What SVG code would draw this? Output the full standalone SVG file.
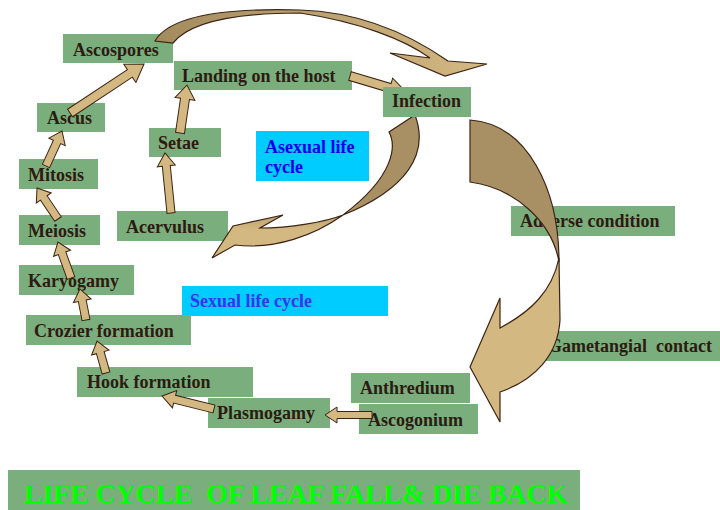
<svg xmlns="http://www.w3.org/2000/svg" width="720" height="510" viewBox="0 0 720 510">
<defs>
<style>
.box{fill:#7AAE7C}
.cy{fill:#00CCFF}
.t{font-family:"Liberation Serif","Times New Roman",serif;font-weight:bold;font-size:18px;fill:#2D1A12}
.b1{font-family:"Liberation Serif","Times New Roman",serif;font-weight:bold;font-size:18px;fill:#0000EE}
.b2{font-family:"Liberation Serif","Times New Roman",serif;font-weight:bold;font-size:18px;fill:#3535F5}
.ar{fill:#D4B882;stroke:#3C2415;stroke-width:1;stroke-linejoin:miter}
.cv{stroke:#3C2415;stroke-width:1.2}
</style>
<linearGradient id="gTop" gradientUnits="userSpaceOnUse" x1="155" y1="0" x2="487" y2="0">
<stop offset="0" stop-color="#A48B5F"/><stop offset="0.45" stop-color="#B8A070"/><stop offset="1" stop-color="#D4B882"/>
</linearGradient>
<linearGradient id="gMid" gradientUnits="userSpaceOnUse" x1="0" y1="115" x2="0" y2="258">
<stop offset="0" stop-color="#A89064"/><stop offset="0.62" stop-color="#A89064"/><stop offset="0.8" stop-color="#D4B882"/><stop offset="1" stop-color="#D4B882"/>
</linearGradient>
</defs>
<rect width="720" height="510" fill="#FFFFFF"/>

<g id="ascospores"><rect class="box" x="63" y="34" width="110" height="29"/><text class="t" x="73" y="56">Ascospores</text></g>
<g id="landing"><rect class="box" x="174" y="61" width="178" height="29"/><text class="t" x="182" y="82">Landing on the host</text></g>
<g id="ascus"><rect class="box" x="37" y="103" width="68" height="29"/><text class="t" x="47" y="124">Ascus</text></g>
<g id="setae"><rect class="box" x="149" y="128" width="72" height="29"/><text class="t" x="158" y="149">Setae</text></g>
<g id="asexual"><rect class="cy" x="256" y="131" width="113" height="50"/><text class="b1" x="265" y="153">Asexual life</text><text class="b1" x="265" y="173">cycle</text></g>
<g id="mitosis"><rect class="box" x="19" y="159" width="79" height="30"/><text class="t" x="28" y="181">Mitosis</text></g>
<g id="acervulus"><rect class="box" x="117" y="211" width="111" height="30"/><text class="t" x="126" y="233">Acervulus</text></g>
<g id="meiosis"><rect class="box" x="19" y="215" width="81" height="30"/><text class="t" x="28" y="237">Meiosis</text></g>
<g id="adverse"><rect class="box" x="511" y="206" width="164" height="30"/><text class="t" x="520" y="227">Adverse condition</text></g>
<g id="karyogamy"><rect class="box" x="19" y="265" width="115" height="30"/><text class="t" x="28" y="287">Karyogamy</text></g>
<g id="sexual"><rect class="cy" x="182" y="286" width="206" height="30"/><text class="b2" x="190" y="307">Sexual life cycle</text></g>
<g id="crozier"><rect class="box" x="26" y="315" width="165" height="30"/><text class="t" x="34" y="337">Crozier formation</text></g>
<g id="gametangial"><rect class="box" x="536" y="331" width="184" height="30"/><text class="t" x="548" y="352" xml:space="preserve">Gametangial  contact</text></g>
<g id="hook"><rect class="box" x="77" y="367" width="176" height="30"/><text class="t" x="87" y="388">Hook formation</text></g>
<g id="anthredium"><rect class="box" x="351" y="373" width="119" height="30"/><text class="t" x="360" y="394">Anthredium</text></g>
<g id="plasmogamy"><rect class="box" x="208" y="398" width="122" height="30"/><text class="t" x="217" y="419">Plasmogamy</text></g>
<g id="ascogonium"><rect class="box" x="359" y="404" width="119" height="30"/><text class="t" x="368" y="426">Ascogonium</text></g>

<g id="connectors">
<polygon class="ar" transform="translate(70,113) rotate(-33.5)" points="0,-4.5 71.8,-4.5 71.8,-11 88.8,0 71.8,11 71.8,4.5 0,4.5"/>
<polygon class="ar" transform="translate(46,166) rotate(-65.4)" points="0,-4 26.5,-4 26.5,-9 38.5,0 26.5,9 26.5,4 0,4"/>
<polygon class="ar" transform="translate(58,219) rotate(-124.1)" points="0,-4 25.4,-4 25.4,-9 37.4,0 25.4,9 25.4,4 0,4"/>
<polygon class="ar" transform="translate(71,278) rotate(-109.9)" points="0,-4 26.3,-4 26.3,-9 38.3,0 26.3,9 26.3,4 0,4"/>
<polygon class="ar" transform="translate(86,320) rotate(-101)" points="0,-4 19.6,-4 19.6,-9 31.6,0 19.6,9 19.6,4 0,4"/>
<polygon class="ar" transform="translate(106,373) rotate(-105.7)" points="0,-4 21.2,-4 21.2,-9 33.2,0 21.2,9 21.2,4 0,4"/>
<polygon class="ar" transform="translate(214,409) rotate(-166)" points="0,-4 40.6,-4 40.6,-9 53.6,0 40.6,9 40.6,4 0,4"/>
<polygon class="ar" transform="translate(372,415) rotate(180)" points="0,-3.5 35,-3.5 35,-8 47,0 35,8 35,3.5 0,3.5"/>
<polygon class="ar" transform="translate(180,133) rotate(-81.7)" points="0,-4.5 34.5,-4.5 34.5,-10 48.5,0 34.5,10 34.5,4.5 0,4.5"/>
<polygon class="ar" transform="translate(171,213) rotate(-95.7)" points="0,-4 47.3,-4 47.3,-9 60.3,0 47.3,9 47.3,4 0,4"/>
<polygon class="ar" transform="translate(350,76) rotate(16.6)" points="0,-4.5 41.5,-4.5 41.5,-10 59.5,0 41.5,10 41.5,4.5 0,4.5"/>
<path class="cv" fill="url(#gTop)" d="M155,41 C170,15 230,8 300,10 C365,12 415,38 448,61 L487,64 L445,76 L390,53 L430,58 C405,40 360,22 300,13 C235,13 190,22 173,43 Z"/>
<path class="cv" fill="url(#gMid)" d="M389,132 C396,145 396,175 343,215 C325,222 290,228 260,228 L283,215 L233,226 L212,258 L235,245 C275,250 315,235 343,215 C405,190 430,155 415,115 Z"/>
<path class="cv" fill="#D4B882" d="M559,258 L560,320 C558,355 535,380 500,392 L500,422 L470,367 L500,298 L500,328 C530,312 552,292 559,258 Z"/>
<path class="cv" fill="#A89064" d="M470,120 C528,124 559,190 559,262 C552,222 515,188 470,182 Z"/>
</g>

<g id="infection"><rect class="box" x="383" y="87" width="88" height="30"/><text class="t" x="392" y="107">Infection</text></g>

<g id="title"><rect class="box" x="8" y="470" width="572" height="40"/><text x="24" y="503" textLength="544" lengthAdjust="spacingAndGlyphs" xml:space="preserve" style="font-family:'Liberation Serif','Times New Roman',serif;font-weight:bold;font-size:28px;fill:#00FF00">LIFE CYCLE  OF LEAF FALL&amp; DIE BACK</text></g>
</svg>
